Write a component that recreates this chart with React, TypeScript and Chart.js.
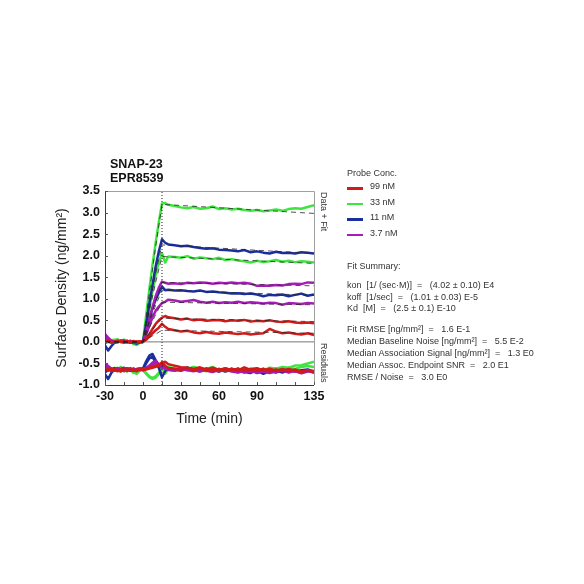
import { useEffect, useRef } from "react";
import { Chart, registerables } from "chart.js";

Chart.register(...registerables);

const FONT = "Arial, 'Liberation Sans', Helvetica, sans-serif";

// time (min)
const TIME = [
  -30, -27.5, -25, -22.5, -20, -17.5, -15, -12.5, -10, -7.5, -5, -2.5, 0,
  2.5, 5, 7.5, 10, 12.5, 15, 17.5, 20,
  25, 30, 35, 40, 45, 50, 55, 60, 65, 70, 75, 80, 85, 90, 95, 100, 105, 110, 115, 120, 125, 130, 135,
];
const X_LABELS = [-30, 0, 30, 60, 90, 135];

// Data curves (ng/mm²)
const GREEN_A = [
  0.03, 0.06, 0.04, 0.05, 0.02, 0.03, 0.05, 0.02, 0.01, -0.03, -0.06, -0.01, 0.01,
  0.62, 1.22, 1.78, 2.3, 2.78, 3.21, 3.22, 3.18,
  3.15, 3.12, 3.1, 3.13, 3.09, 3.1, 3.14, 3.08, 3.1, 3.07, 3.09, 3.06, 3.04, 3.06, 3.03, 3.05, 3.07, 3.04, 3.08, 3.1, 3.09, 3.13, 3.17,
];
const BLUE_A = [
  -0.08, -0.2, -0.1, -0.02, 0.01, 0.0, -0.01, 0.02, 0.0, -0.02, -0.04, -0.01, 0.0,
  0.42, 0.88, 1.32, 1.75, 2.1, 2.38, 2.3, 2.26,
  2.24, 2.22, 2.23, 2.2, 2.18, 2.16, 2.17, 2.14, 2.13, 2.12, 2.1, 2.13, 2.08, 2.1, 2.07, 2.05, 2.09, 2.06, 2.07, 2.05, 2.08, 2.07, 2.05,
];
const GREEN_B = [
  0.05, 0.02, 0.0, 0.04, 0.06, 0.02, 0.0, -0.02, 0.03, -0.05, -0.07, -0.02, 0.0,
  0.38, 0.78, 1.18, 1.55, 1.85, 2.06, 1.84, 1.98,
  1.97, 1.95, 1.99, 1.93, 1.96, 1.94, 1.92, 1.95, 1.9, 1.92, 1.89, 1.87, 1.84, 1.88, 1.85, 1.87, 1.9, 1.86, 1.88, 1.85, 1.87, 1.86, 1.84,
];
const MAGENTA_A = [
  0.18, 0.1, 0.03, 0.0, 0.02, 0.01, -0.01, 0.02, 0.0, 0.01, -0.02, 0.0, 0.01,
  0.25, 0.52, 0.8, 1.06, 1.26, 1.4, 1.37, 1.35,
  1.36, 1.34, 1.37, 1.36, 1.38, 1.37, 1.35, 1.37, 1.36, 1.38, 1.36, 1.37, 1.35, 1.3, 1.31, 1.3, 1.32, 1.31, 1.34, 1.35, 1.34, 1.38, 1.37,
];
const BLUE_B = [
  -0.02, 0.0, 0.02, 0.01, -0.01, 0.02, 0.03, 0.0, -0.02, 0.01, -0.03, 0.0, 0.01,
  0.24, 0.52, 0.78, 0.98, 1.14, 1.28, 1.2, 1.21,
  1.19, 1.2, 1.18, 1.17, 1.19, 1.16, 1.17, 1.15, 1.14, 1.12, 1.13, 1.11, 1.12, 1.1, 1.06, 1.09, 1.08, 1.1, 1.06, 1.09, 1.12, 1.07, 1.1,
];
const MAGENTA_B = [
  0.12, 0.05, 0.01, -0.02, 0.0, 0.02, 0.0, -0.01, 0.02, 0.0, -0.01, 0.01, 0.0,
  0.17, 0.37, 0.57, 0.72, 0.82, 0.9, 0.93, 0.98,
  0.96, 0.93, 0.95, 0.97, 0.93, 0.91, 0.93, 0.9, 0.92, 0.91, 0.93, 0.9, 0.92, 0.91, 0.89, 0.91, 0.9, 0.86, 0.9, 0.89, 0.88, 0.9, 0.89,
];
const RED_A = [
  0.02, 0.0, -0.02, 0.01, 0.03, 0.0, -0.01, 0.02, 0.0, -0.02, 0.01, -0.01, 0.0,
  0.08, 0.18, 0.3, 0.42, 0.5, 0.56, 0.6, 0.57,
  0.55, 0.52, 0.54, 0.5, 0.52, 0.49, 0.5, 0.51, 0.48, 0.5, 0.49, 0.51, 0.47, 0.49, 0.48, 0.5, 0.47, 0.46, 0.48, 0.45, 0.44, 0.45, 0.43,
];
const RED_B = [
  -0.01, 0.02, 0.0, -0.02, 0.01, 0.03, 0.0, 0.01, -0.01, 0.02, 0.0, 0.01, 0.02,
  0.05, 0.12, 0.2, 0.27, 0.33, 0.42, 0.35, 0.3,
  0.27, 0.24, 0.26, 0.22, 0.2, 0.23, 0.2, 0.19, 0.22, 0.2, 0.18, 0.2, 0.17, 0.19, 0.2, 0.3, 0.24, 0.2, 0.22, 0.19, 0.17, 0.2, 0.16,
];

// Fit curves (dashed)
const FIT_TIME = [-30, 0, 5, 10, 15, 135];
const FIT_GREEN_A = [0, 0, 1.15, 2.22, 3.19, 2.98];
const FIT_BLUE_A = [0, 0, 0.85, 1.6, 2.25, 2.05];
const FIT_GREEN_B = [0, 0, 0.72, 1.38, 1.98, 1.82];
const FIT_MAGENTA_A = [0, 0, 0.5, 0.95, 1.38, 1.3];
const FIT_BLUE_B = [0, 0, 0.45, 0.85, 1.2, 1.08];
const FIT_MAGENTA_B = [0, 0, 0.33, 0.63, 0.92, 0.86];
const FIT_RED_A = [0, 0, 0.2, 0.38, 0.55, 0.47];
const FIT_RED_B = [0, 0, 0.1, 0.18, 0.27, 0.2];

// Residuals (plotted with offset)
const RES_GREEN_A = [
  -0.6, -0.57, -0.63, -0.66, -0.6, -0.64, -0.68, -0.62, -0.66, -0.7, -0.74, -0.66, -0.65,
  -0.74, -0.82, -0.86, -0.83, -0.75, -0.64, -0.6, -0.58,
  -0.63, -0.66, -0.62, -0.58, -0.67, -0.63, -0.58, -0.66, -0.61, -0.65, -0.68, -0.63, -0.67, -0.62, -0.66, -0.6, -0.62, -0.58, -0.6, -0.55, -0.54, -0.5, -0.46,
];
const RES_GREEN_B = [
  -0.58, -0.63, -0.67, -0.6, -0.64, -0.58, -0.66, -0.69, -0.62, -0.72, -0.68, -0.63, -0.66,
  -0.72, -0.8, -0.84, -0.8, -0.72, -0.6, -0.74, -0.62,
  -0.59, -0.63, -0.66, -0.58, -0.63, -0.68, -0.61, -0.66, -0.69, -0.62, -0.71, -0.66, -0.62, -0.72, -0.67, -0.64, -0.61, -0.66, -0.6, -0.63, -0.58, -0.56, -0.58,
];
const RES_BLUE_A = [
  -0.75, -0.86, -0.72, -0.64, -0.61, -0.64, -0.66, -0.61, -0.65, -0.67, -0.64, -0.62, -0.62,
  -0.45, -0.32, -0.28, -0.42, -0.55, -0.5, -0.62, -0.64,
  -0.66, -0.61, -0.6, -0.64, -0.67, -0.62, -0.67, -0.63, -0.68, -0.66, -0.64, -0.7, -0.66, -0.72, -0.67, -0.7, -0.66, -0.71, -0.65, -0.69, -0.66, -0.64, -0.69,
];
const RES_BLUE_B = [
  -0.7, -0.66, -0.63, -0.61, -0.66, -0.63, -0.6, -0.65, -0.67, -0.62, -0.66, -0.64, -0.63,
  -0.5, -0.38, -0.35, -0.48, -0.6, -0.82, -0.68, -0.61,
  -0.63, -0.66, -0.6, -0.65, -0.68, -0.62, -0.66, -0.69, -0.63, -0.67, -0.62, -0.7, -0.72, -0.66, -0.74, -0.68, -0.71, -0.65, -0.7, -0.66, -0.72, -0.67, -0.71,
];
const RES_MAGENTA_A = [
  -0.5, -0.56, -0.62, -0.66, -0.62, -0.67, -0.63, -0.61, -0.66, -0.62, -0.67, -0.63, -0.65,
  -0.6, -0.55, -0.48, -0.44, -0.52, -0.58, -0.62, -0.65,
  -0.67, -0.62, -0.66, -0.68, -0.63, -0.67, -0.7, -0.64, -0.68, -0.63, -0.67, -0.71, -0.66, -0.72, -0.68, -0.65, -0.7, -0.66, -0.64, -0.69, -0.71, -0.66, -0.7,
];
const RES_MAGENTA_B = [
  -0.55, -0.61, -0.65, -0.67, -0.61, -0.65, -0.68, -0.64, -0.62, -0.67, -0.63, -0.61, -0.64,
  -0.62, -0.57, -0.52, -0.49, -0.55, -0.6, -0.59, -0.63,
  -0.65, -0.67, -0.62, -0.66, -0.69, -0.65, -0.63, -0.68, -0.64, -0.69, -0.71, -0.66, -0.7, -0.65, -0.69, -0.72, -0.68, -0.66, -0.71, -0.67, -0.73, -0.69, -0.67,
];
const RES_RED_A = [
  -0.63, -0.67, -0.62, -0.66, -0.68, -0.63, -0.61, -0.66, -0.62, -0.67, -0.63, -0.66, -0.62,
  -0.62, -0.6, -0.57, -0.55, -0.52, -0.49, -0.46, -0.52,
  -0.55, -0.59, -0.6, -0.63, -0.59, -0.64, -0.6, -0.65, -0.61, -0.66, -0.62, -0.67, -0.63, -0.61, -0.66, -0.62, -0.67, -0.63, -0.68, -0.64, -0.69, -0.65, -0.7,
];
const RES_RED_B = [
  -0.67, -0.63, -0.68, -0.62, -0.66, -0.69, -0.63, -0.67, -0.61, -0.66, -0.68, -0.63, -0.66,
  -0.64, -0.62, -0.6, -0.58, -0.55, -0.47, -0.55, -0.61,
  -0.63, -0.65, -0.6, -0.67, -0.62, -0.66, -0.68, -0.63, -0.67, -0.62, -0.66, -0.59, -0.65, -0.67, -0.62, -0.69, -0.64, -0.68, -0.63, -0.67, -0.7, -0.66, -0.71,
];

const INJECTION_END = [15, 15];
const INJECTION_Y = [-1, 3.5];
const ZERO_X = [-30, 135];
const ZERO_Y = [0, 0];

const RED = "#d11a1a";
const GREEN = "#3ee53e";
const BLUE = "#1b2f9c";
const MAGENTA = "#a51db6";

const LEGEND_LABELS = ["99 nM", "33 nM", "11 nM", "3.7 nM"];
const LEGEND_COLORS = [RED, GREEN, BLUE, MAGENTA];

const SUMMARY_A = [
  "kon  [1/ (sec·M)]  =   (4.02 ± 0.10) E4",
  "koff  [1/sec]  =   (1.01 ± 0.03) E-5",
  "Kd  [M]  =   (2.5 ± 0.1) E-10",
];
const SUMMARY_B = [
  "Fit RMSE [ng/mm²]  =   1.6 E-1",
  "Median Baseline Noise [ng/mm²]  =   5.5 E-2",
  "Median Association Signal [ng/mm²]  =   1.3 E0",
  "Median Assoc. Endpoint SNR  =   2.0 E1",
  "RMSE / Noise  =   3.0 E0",
];

const pts = (xs: number[], ys: number[]) => xs.map((x, i) => ({ x, y: ys[i] }));

const framePlugin = {
  id: "frame",
  afterDraw(chart: any) {
    const { ctx, chartArea: a, scales } = chart;
    ctx.save();
    ctx.lineWidth = 1;
    ctx.strokeStyle = "#a0a0a0";
    ctx.beginPath();
    ctx.moveTo(a.left, a.top + 0.5);
    ctx.lineTo(Math.round(a.right) + 0.5, a.top + 0.5);
    ctx.lineTo(Math.round(a.right) + 0.5, a.bottom);
    ctx.stroke();
    ctx.strokeStyle = "#3a3a3a";
    ctx.beginPath();
    ctx.moveTo(Math.round(a.left) + 0.5, a.top);
    ctx.lineTo(Math.round(a.left) + 0.5, Math.round(a.bottom) + 0.5);
    ctx.lineTo(a.right, Math.round(a.bottom) + 0.5);
    ctx.stroke();
    ctx.strokeStyle = "#555";
    ctx.beginPath();
    for (const t of scales.x.ticks) {
      const x = Math.round(scales.x.getPixelForValue(t.value)) + 0.5;
      ctx.moveTo(x, a.bottom);
      ctx.lineTo(x, a.bottom - 3);
    }
    for (const t of scales.y.ticks) {
      const y = Math.round(scales.y.getPixelForValue(t.value)) + 0.5;
      ctx.moveTo(a.left, y);
      ctx.lineTo(a.left + 3, y);
    }
    ctx.stroke();
    ctx.restore();
  },
};

export default function App() {
  const canvasRef = useRef<HTMLCanvasElement | null>(null);

  useEffect(() => {
    if (!canvasRef.current) return;
    const line = (data: any, color: string, order: number, extra: any = {}) => ({
      data,
      borderColor: color,
      backgroundColor: color,
      borderWidth: 2.5,
      pointRadius: 0,
      fill: false,
      tension: 0,
      order,
      borderJoinStyle: "round",
      ...extra,
    });
    const fit = (ys: number[]) =>
      line(pts(FIT_TIME, ys), "rgba(40,40,40,0.8)", 1, { borderWidth: 1, borderDash: [5, 4] });

    const chart = new Chart(canvasRef.current, {
      type: "line",
      data: {
        datasets: [
          line(pts(INJECTION_END, INJECTION_Y), "#222", 0, { borderWidth: 1, borderDash: [1, 2] }),
          fit(FIT_GREEN_A),
          fit(FIT_BLUE_A),
          fit(FIT_GREEN_B),
          fit(FIT_MAGENTA_A),
          fit(FIT_BLUE_B),
          fit(FIT_MAGENTA_B),
          fit(FIT_RED_A),
          fit(FIT_RED_B),
          line(pts(TIME, RED_A), RED, 2),
          line(pts(TIME, RED_B), RED, 2),
          line(pts(TIME, MAGENTA_A), MAGENTA, 3),
          line(pts(TIME, MAGENTA_B), MAGENTA, 3),
          line(pts(TIME, BLUE_A), BLUE, 4),
          line(pts(TIME, BLUE_B), BLUE, 4),
          line(pts(TIME, GREEN_A), GREEN, 5),
          line(pts(TIME, GREEN_B), GREEN, 5),
          line(pts(TIME, RES_RED_A), RED, 2),
          line(pts(TIME, RES_RED_B), RED, 2),
          line(pts(TIME, RES_MAGENTA_A), MAGENTA, 3),
          line(pts(TIME, RES_MAGENTA_B), MAGENTA, 3),
          line(pts(TIME, RES_BLUE_A), BLUE, 4),
          line(pts(TIME, RES_BLUE_B), BLUE, 4),
          line(pts(TIME, RES_GREEN_A), GREEN, 5),
          line(pts(TIME, RES_GREEN_B), GREEN, 5),
          line(pts(ZERO_X, ZERO_Y), "#777", 9, { borderWidth: 1 }),
        ] as any,
      },
      options: {
        animation: false,
        responsive: false,
        devicePixelRatio: 1,
        layout: { padding: { left: 50, right: 270, top: 191, bottom: 154 } },
        plugins: { legend: { display: false }, tooltip: { enabled: false } },
        scales: {
          x: {
            type: "linear",
            min: -30,
            max: 135,
            grid: { display: false, drawTicks: false },
            border: { display: false },
            ticks: {
              stepSize: 15,
              autoSkip: false,
              maxRotation: 0,
              padding: 4,
              color: "#111",
              font: { family: FONT, size: 12.5, weight: "bold" },
              callback: (v: any) => (X_LABELS.includes(Number(v)) ? String(v) : ""),
            },
            title: {
              display: true,
              text: "Time (min)",
              color: "#222",
              font: { family: FONT, size: 14 },
              padding: { top: 0, bottom: 2 },
            },
            afterFit: (s: any) => {
              s.height = 45;
            },
          },
          y: {
            min: -1,
            max: 3.5,
            grid: { display: false, drawTicks: false },
            border: { display: false },
            ticks: {
              stepSize: 0.5,
              padding: 5,
              color: "#111",
              font: { family: FONT, size: 12.5, weight: "bold" },
              callback: (v: any) => Number(v).toFixed(1),
            },
            title: {
              display: true,
              text: "Surface Density (ng/mm²)",
              color: "#222",
              font: { family: FONT, size: 14 },
              padding: { top: 4, bottom: 0 },
            },
            afterFit: (s: any) => {
              s.width = 55;
            },
          },
        },
      } as any,
      plugins: [framePlugin],
    });
    return () => chart.destroy();
  }, []);

  const txt = (top: number, left: number, s: string, size = 9, extra: any = {}) => (
    <div
      key={s + top}
      style={{
        position: "absolute",
        left,
        top: top - 6,
        height: 12,
        lineHeight: "12px",
        fontSize: size,
        fontFamily: FONT,
        color: "#333",
        whiteSpace: "pre",
        ...extra,
      }}
    >
      {s}
    </div>
  );

  const LEG_Y = [186, 201.5, 217, 232.5];
  const SUM_A_Y = [285, 296.5, 308];
  const SUM_B_Y = [329, 341, 353, 365, 377];

  return (
    <div style={{ position: "absolute", left: 0, top: 0, width: 584, height: 584, background: "#fff" }}>
      <canvas ref={canvasRef} width={584} height={584} style={{ position: "absolute", left: 0, top: 0 }} />
      {txt(164, 110, "SNAP-23", 12.5, { fontWeight: "bold", color: "#111", height: 14, lineHeight: "12px" })}
      {txt(178, 110, "EPR8539", 12.5, { fontWeight: "bold", color: "#111", height: 14, lineHeight: "12px" })}
      <div
        style={{
          position: "absolute",
          left: 317,
          top: 192,
          width: 12,
          writingMode: "vertical-rl",
          fontSize: 9,
          fontFamily: FONT,
          color: "#333",
          whiteSpace: "pre",
        }}
      >
        Data + Fit
      </div>
      <div
        style={{
          position: "absolute",
          left: 317,
          top: 343,
          width: 12,
          writingMode: "vertical-rl",
          fontSize: 9,
          fontFamily: FONT,
          color: "#333",
          whiteSpace: "pre",
        }}
      >
        Residuals
      </div>
      {txt(172.5, 347, "Probe Conc.", 9)}
      {LEGEND_LABELS.map((l, i) => (
        <div key={l}>
          <div
            style={{
              position: "absolute",
              left: 347,
              top: LEG_Y[i] + 1,
              width: 16,
              height: 2.5,
              background: LEGEND_COLORS[i],
            }}
          />
          {txt(LEG_Y[i], 370, l, 9)}
        </div>
      ))}
      {txt(266, 347, "Fit Summary:", 9)}
      {SUMMARY_A.map((s, i) => txt(SUM_A_Y[i], 347, s, 9))}
      {SUMMARY_B.map((s, i) => txt(SUM_B_Y[i], 347, s, 9))}
    </div>
  );
}
